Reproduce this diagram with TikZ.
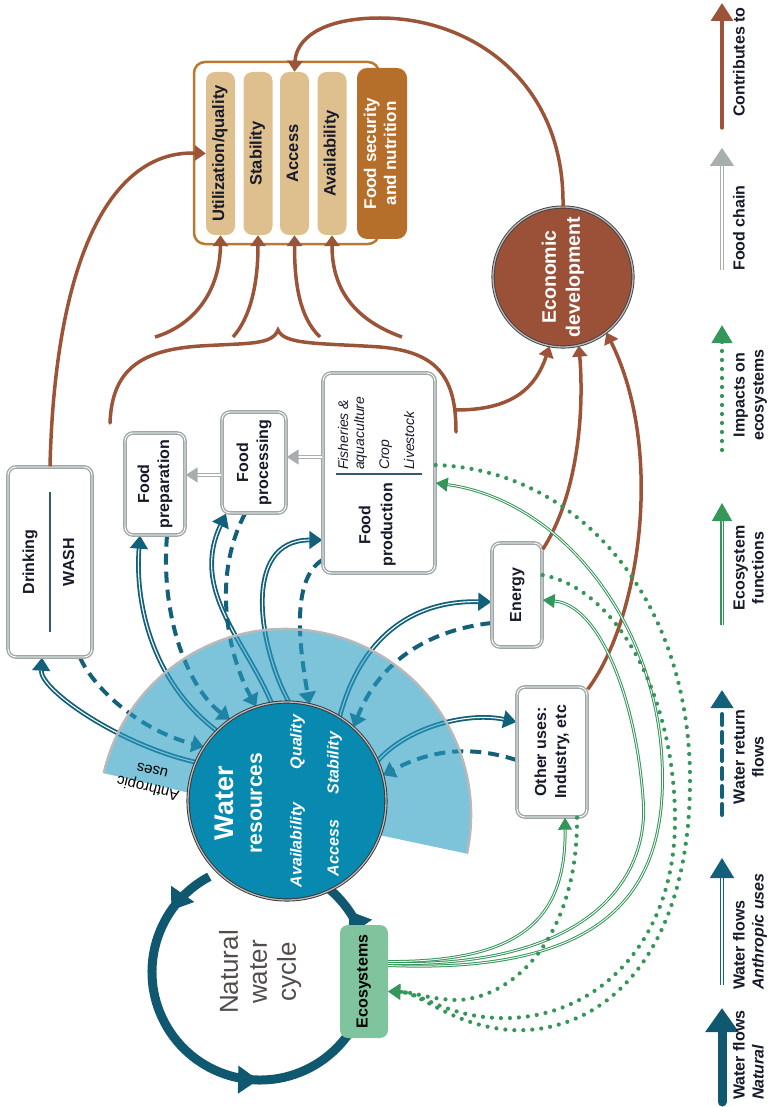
\documentclass[tikz,border=0pt]{standalone}
\usepackage{fontspec}
\setmainfont{Liberation Sans}
\usepackage{graphicx}
\usetikzlibrary{calc,positioning,arrows.meta,decorations.markings}

\definecolor{contribbrown}{RGB}{156,84,56}
\definecolor{flowteal}{RGB}{18,96,122}
\definecolor{cycleteal}{RGB}{15,88,112}
\definecolor{waterfill}{RGB}{8,137,175}
\definecolor{fanblue}{RGB}{38,155,193}
\definecolor{boxgray}{RGB}{160,167,168}
\definecolor{chaingray}{RGB}{168,173,173}
\definecolor{pilltan}{RGB}{222,191,142}
\definecolor{fsframe}{RGB}{184,122,48}
\definecolor{fsfill}{RGB}{181,111,43}
\definecolor{ecogreen}{RGB}{52,150,88}
\definecolor{ecofill}{RGB}{128,196,158}
\definecolor{econfill}{RGB}{155,80,56}
\definecolor{inkdark}{RGB}{22,26,42}
\definecolor{cyclegray}{RGB}{82,76,74}
\definecolor{sepblue}{RGB}{50,90,115}

\newcommand{\vlab}[2][c]{\rotatebox{90}{\begin{tabular}{@{}#1@{}}#2\end{tabular}}}

\pgfdeclarelayer{flows}
\pgfdeclarelayer{fan}
\pgfsetlayers{flows,fan,main}

\tikzset{
	usebox/.style={draw=boxgray, double=white, double distance=0.9pt, line width=1.4pt, rounded corners=8pt, fill=white, inner sep=0pt, text=inkdark, font=\fontsize{16}{20}\selectfont\bfseries},
	pill/.style={fill=pilltan, rounded corners=9pt, minimum width=29pt, minimum height=163pt, inner sep=0pt, text=inkdark, font=\fontsize{16.5}{18}\selectfont\bfseries},
	contrib/.style={draw=contribbrown, line width=3.5pt, -{Triangle[length=11pt,width=15pt]}},
	anthro/.style={draw=flowteal, double=white, line width=1.8pt, double distance=1.1pt, -{Triangle[length=13pt,width=18pt]}},
	retflow/.style={draw=flowteal, line width=4pt, dash pattern=on 11pt off 7pt, -{Triangle[length=12pt,width=17pt]}},
	ecofn/.style={draw=ecogreen, double=white, line width=1pt, double distance=0.9pt, -{Triangle[length=12pt,width=14pt]}},
	impact/.style={draw=ecogreen, line width=4.2pt, dash pattern=on 0pt off 9pt, line cap=round, -{Triangle[length=12pt,width=15pt]}},
	chain/.style={draw=chaingray, double=white, line width=1.6pt, double distance=1.3pt, -{Triangle[length=12pt,width=15pt]}},
	legtext/.style={inner sep=0pt, text=inkdark, font=\fontsize{16}{19}\selectfont\bfseries},
	wlab/.style={inner sep=0pt, text=white, font=\fontsize{16}{18}\selectfont\bfseries\itshape},
}

\begin{document}
\begin{tikzpicture}[x=1pt,y=1pt]
	\useasboundingbox (0,0) rectangle (769,-1107);

	% food security and nutrition
	\node[draw=fsframe, line width=2.5pt, rounded corners=11pt, minimum width=185pt, minimum height=182pt] (fsouter) at (286.5,-153) {};
	\node[pill] (util) at (220.5,-153.5) {\vlab{Utilization/quality}};
	\node[pill] (stab) at (258,-153.5) {\vlab{Stability}};
	\node[pill] (access) at (294.5,-153.5) {\vlab{Access}};
	\node[pill] (avail) at (332,-153.5) {\vlab{Availability}};
	\node[fill=fsfill, rounded corners=10pt, minimum width=50pt, minimum height=171pt, inner sep=0pt, text=white, font=\fontsize{17}{20}\selectfont\bfseries] (fsn) at (382,-153.5) {\vlab{Food security\\and nutrition}};

	\node[circle, minimum size=140pt, inner sep=0pt, fill=econfill, draw=black!75, line width=0.9pt, double=gray!55, double distance=1.3pt, text=white, font=\fontsize{19.5}{24}\selectfont\bfseries] (econ) at (563,-277) {\vlab{Economic\\development}};

	% uses
	\node[usebox, minimum width=84pt, minimum height=190pt] (drink) at (50,-562) {\vlab{Drinking\\[20pt]WASH}};
	\node[usebox, minimum width=60pt, minimum height=102pt] (prep) at (155,-484) {\vlab{Food\\preparation}};
	\node[usebox, minimum width=64pt, minimum height=101pt] (proc) at (254,-462.5) {\vlab{Food\\processing}};
	\node[usebox, minimum width=112pt, minimum height=200pt] (prod) at (379,-473) {};
	\node[inner sep=0pt, text=inkdark, font=\fontsize{16}{22}\selectfont\bfseries] (prodname) at (377,-525) {\vlab{Food\\production}};
	\node[anchor=south, inner sep=0pt, text=inkdark, font=\fontsize{14}{16}\selectfont\itshape] (prodkinds) at (378,-470) {\vlab[l]{Fisheries \&\\aquaculture\\[9pt]Crop\\[9pt]Livestock}};
	\node[usebox, minimum width=50pt, minimum height=104pt] (energy) at (517,-595) {\vlab{Energy}};
	\node[usebox, minimum width=70pt, minimum height=130pt] (other) at (552,-752) {\vlab{Other uses:\\Industry, etc}};
	\node[fill=ecofill, rounded corners=8pt, minimum width=48pt, minimum height=113pt, inner sep=0pt, text=black, font=\fontsize{16}{18}\selectfont\bfseries] (eco) at (364,-981.5) {\vlab{Ecosystems}};

	\draw[sepblue, line width=1.5pt] ($(drink.center)+(0,70)$) -- ($(drink.center)+(0,-70)$);
	\draw[sepblue, line width=1.5pt] ($(prod.center)+(-43,-1)$) -- ($(prod.center)+(43,-1)$);

	% water resources
	\coordinate (fanc) at (285,-815);
	\coordinate (cyc) at (260,-972);
	\node[circle, minimum size=198pt, inner sep=0pt, fill=waterfill, draw=black!80, line width=0.9pt, double=gray!55, double distance=1.3pt] (water) at (287,-801) {};
	\node[inner sep=0pt, text=white, font=\fontsize{27}{30}\selectfont\bfseries] (wname) at (227,-803) {\vlab{Water}};
	\node[inner sep=0pt, text=white, font=\fontsize{21}{24}\selectfont\bfseries] (wres) at (257,-803) {\vlab{resources}};
	\node[wlab] (wqual) at (298,-742) {\vlab{Quality}};
	\node[wlab] (wstab) at (335,-763) {\vlab{Stability}};
	\node[wlab] (wavail) at (298,-845) {\vlab{Availability}};
	\node[wlab] (wacc) at (335,-848) {\vlab{Access}};
	\node[rotate=166, align=center, inner sep=0pt, font=\fontsize{15}{18}\selectfont] (anthlab) at (150,-780) {Anthropic\\uses};
	\node[inner sep=0pt, text=cyclegray, font=\fontsize{26}{29}\selectfont] (cyctxt) at (261,-972) {\vlab{Natural\\water\\cycle}};

	\begin{pgfonlayer}{flows}
		\draw[cycleteal, line width=9pt, postaction={decorate}, decoration={markings,
			mark=at position 0.09 with {\arrow[line width=1pt]{Triangle[length=20pt,width=28pt]}},
			mark=at position 0.5 with {\arrow[line width=1pt]{Triangle[length=20pt,width=28pt]}},
			mark=at position 0.915 with {\arrow[line width=1pt]{Triangle[length=20pt,width=28pt]}}}]
			($(cyc)+(118:108)$) arc[start angle=118, end angle=420, radius=108];

		\draw[anthro] (water.157) .. controls (120,-745) and (40,-690) .. ([xshift=-8pt]drink.south);
		\draw[retflow] ([xshift=30pt]drink.south) .. controls (95,-690) and (140,-730) .. (water.147);
		\draw[anthro] (water.135) .. controls (150,-680) and (135,-600) .. ([xshift=-15pt]prep.south);
		\draw[retflow] ([xshift=12pt]prep.south) .. controls (160,-620) and (190,-690) .. (water.125);
		\draw[anthro] (water.99) .. controls (245,-640) and (190,-590) .. ([xshift=-28pt]proc.south);
		\draw[retflow] ([xshift=-9pt]proc.south) .. controls (210,-580) and (230,-660) .. (water.108);
		\draw[anthro] (water.89) .. controls (260,-650) and (240,-540) .. ([yshift=-67pt]prod.west);
		\draw[retflow] ([yshift=-87pt]prod.west) .. controls (290,-580) and (300,-650) .. (water.77);
		\draw[anthro] (water.58) .. controls (360,-640) and (410,-600) .. ([yshift=-7pt]energy.west);
		\draw[retflow] ([yshift=-28pt]energy.west) .. controls (430,-630) and (380,-660) .. (water.48);
		\draw[anthro] (water.24) .. controls (410,-725) and (470,-712) .. ([yshift=30pt]other.west);
		\draw[retflow] ([yshift=-8pt]other.west) .. controls (470,-745) and (430,-750) .. (water.15);
	\end{pgfonlayer}

	\begin{pgfonlayer}{fan}
		\fill[fanblue, fill opacity=0.6] (fanc) -- ++(-12:186) arc[start angle=-12, end angle=167, radius=186] -- cycle;
		\draw[gray!55, line width=2.5pt] ($(fanc)+(-12:186)$) arc[start angle=-12, end angle=167, radius=186];
	\end{pgfonlayer}

	% food chain
	\draw[chain] ([yshift=16pt]prod.west) -- ([yshift=5.5pt]proc.east);
	\draw[chain] ([yshift=-12.5pt]proc.west) -- ([yshift=9pt]prep.east);

	% contributes to
	\coordinate (b1) at (155,-337);
	\coordinate (b2) at (233,-337);
	\coordinate (b3) at (320,-337);
	\coordinate (b4) at (402,-337);
	\coordinate (bracejoin) at (456,-410);
	\draw[contribbrown, line width=3.5pt, line cap=round] (110,-423) .. controls (112,-370) and (140,-350) .. (200,-346) .. controls (250,-343) and (272,-345) .. (278,-330) .. controls (284,-345) and (320,-343) .. (380,-347) .. controls (440,-352) and (456,-380) .. (456,-432);
	\draw[contrib] (b1) .. controls (195,-325) and (220,-290) .. (util.south);
	\draw[contrib] (b2) .. controls (250,-318) and (258,-285) .. (stab.south);
	\draw[contrib] (b3) .. controls (300,-318) and (294.5,-285) .. (access.south);
	\draw[contrib] (b4) .. controls (355,-320) and (332,-290) .. (avail.south);
	\draw[contrib] (drink.north) .. controls (55,-260) and (110,-150) .. (util.west);
	\draw[contrib] (econ.north) .. controls (565,-80) and (470,-18) .. (380,-18) .. controls (320,-18) and (296,-40) .. (access.north);
	\draw[contrib] (bracejoin) .. controls (510,-410) and (535,-390) .. (econ.259);
	\draw[contrib] ([yshift=-7pt]energy.north east) .. controls (575,-500) and (585,-420) .. (econ.283);
	\draw[contrib] ([yshift=-3pt]other.north east) .. controls (640,-620) and (665,-450) .. (econ.308);

	% ecosystem functions and impacts
	\draw[ecofn] ([yshift=20pt]eco.east) .. controls (520,-962) and (566,-920) .. ([xshift=13pt]other.south);
	\draw[ecofn] ([yshift=18pt]eco.east) .. controls (600,-968) and (650,-870) .. (643,-798) .. controls (636,-700) and (600,-605) .. ([yshift=-5pt]energy.east);
	\draw[ecofn] ([yshift=16pt]eco.east) .. controls (620,-975) and (668,-880) .. (662,-760) .. controls (655,-620) and (560,-500) .. ([yshift=-10pt]prod.east);
	\draw[impact] ([yshift=8pt]prod.east) .. controls (580,-470) and (690,-600) .. (690,-780) .. controls (690,-960) and (600,-1035) .. (510,-1030) .. controls (450,-1025) and (420,-992) .. ([yshift=-10pt]eco.east);
	\draw[impact] ([yshift=20pt]energy.east) .. controls (620,-590) and (675,-700) .. (675,-820) .. controls (675,-940) and (600,-1015) .. (510,-1018) .. controls (450,-1020) and (420,-992) .. ([yshift=-10pt]eco.east);
	\draw[impact] ([xshift=25pt]other.south) .. controls (578,-930) and (520,-995) .. (460,-1000) .. controls (430,-1000) and (415,-992) .. ([yshift=-10pt]eco.east);

	% legend
	\coordinate (lgnat0) at (722,-1102);
	\coordinate (lgnat1) at (722,-1008);
	\coordinate (lganth0) at (722,-985);
	\coordinate (lganth1) at (722,-858);
	\coordinate (lgret0) at (722,-815);
	\coordinate (lgret1) at (722,-690);
	\coordinate (lgfn0) at (722,-625);
	\coordinate (lgfn1) at (722,-503);
	\coordinate (lgimp0) at (722,-450);
	\coordinate (lgimp1) at (722,-325);
	\coordinate (lgchain0) at (722,-270);
	\coordinate (lgchain1) at (722,-148);
	\coordinate (lgcon0) at (722,-128);
	\coordinate (lgcon1) at (722,-3);
	\draw[cycleteal, line width=9pt, line cap=round, -{Triangle[length=24pt,width=32pt]}] (lgnat0) -- (lgnat1);
	\draw[anthro, -{Triangle[length=20pt,width=24pt]}] (lganth0) -- (lganth1);
	\draw[retflow, line cap=round, -{Triangle[length=18pt,width=22pt]}] (lgret0) -- (lgret1);
	\draw[ecofn, line width=1.4pt, -{Triangle[length=18pt,width=20pt]}] (lgfn0) -- (lgfn1);
	\draw[impact, -{Triangle[length=18pt,width=20pt]}] (lgimp0) -- (lgimp1);
	\draw[chain, -{Triangle[length=18pt,width=24pt]}] (lgchain0) -- (lgchain1);
	\draw[contrib, line cap=round, -{Triangle[length=18pt,width=22pt]}] (lgcon0) -- (lgcon1);
	\node[legtext, anchor=south west] (lgnattxt) at (731,-1100) {\vlab[l]{Water flows\\\textit{Natural}}};
	\node[legtext, anchor=south west] (lganthtxt) at (731,-990) {\vlab[l]{Water flows\\\textit{Anthropic uses}}};
	\node[legtext, anchor=west] (lgrettxt) at (731,-757) {\vlab{Water return\\flows}};
	\node[legtext, anchor=west] (lgfntxt) at (731,-568) {\vlab{Ecosystem\\functions}};
	\node[legtext, anchor=west] (lgimptxt) at (731,-395) {\vlab{Impacts on\\ecosystems}};
	\node[legtext, anchor=west] (lgchaintxt) at (731,-228) {\vlab{Food chain}};
	\node[legtext, anchor=west] (lgcontxt) at (731,-62) {\vlab{Contributes to}};
\end{tikzpicture}
\end{document}
